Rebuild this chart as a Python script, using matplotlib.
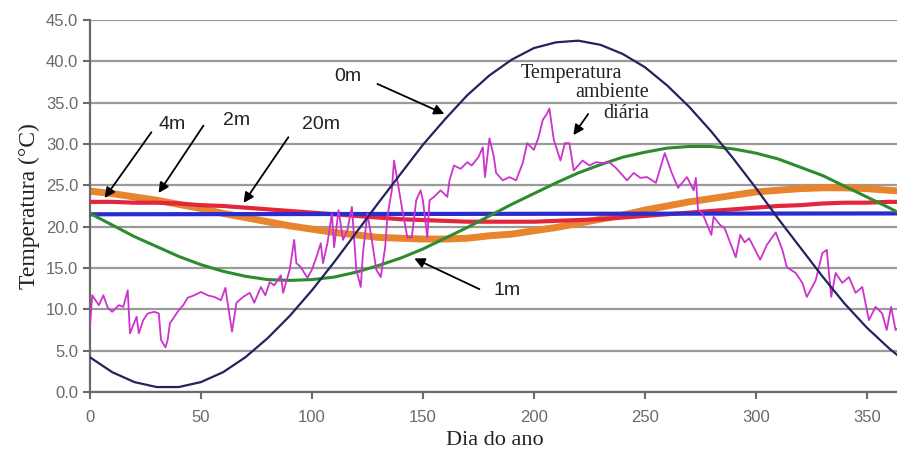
import matplotlib
matplotlib.use('Agg')
import matplotlib.pyplot as plt

# smooth soil temperature curves, read every 10 days
days = [0, 10, 20, 30, 40, 50, 60, 70, 80, 90, 100, 110, 120, 130, 140, 150, 160, 170, 180,
        190, 200, 210, 220, 230, 240, 250, 260, 270, 280, 290, 300, 310, 320, 330, 340, 350, 360, 365]
t_0m = [4.2, 2.4, 1.2, 0.6, 0.6, 1.2, 2.4, 4.2, 6.5, 9.2, 12.3, 15.7, 19.3, 22.9, 26.4, 29.9, 33.0, 35.9, 38.3,
        40.2, 41.6, 42.3, 42.5, 42.0, 40.9, 39.3, 37.1, 34.5, 31.5, 28.2, 24.7, 21.0, 17.5, 14.0, 10.7, 7.8, 5.3, 4.2]
t_1m = [21.6, 20.2, 18.8, 17.6, 16.4, 15.4, 14.6, 14.0, 13.6, 13.5, 13.6, 13.9, 14.5, 15.3, 16.2, 17.3, 18.6, 19.9, 21.3,
        22.7, 24.0, 25.3, 26.5, 27.5, 28.4, 29.0, 29.5, 29.7, 29.7, 29.4, 28.9, 28.2, 27.2, 26.2, 24.9, 23.6, 22.3, 21.6]
t_2m = [24.3, 24.0, 23.6, 23.2, 22.7, 22.2, 21.6, 21.1, 20.6, 20.1, 19.7, 19.3, 19.0, 18.7, 18.6, 18.5, 18.5, 18.6, 18.9,
        19.1, 19.5, 19.9, 20.4, 20.9, 21.4, 22.0, 22.5, 23.0, 23.4, 23.8, 24.2, 24.4, 24.6, 24.7, 24.7, 24.6, 24.4, 24.3]
t_4m = [23.0, 23.0, 22.9, 22.9, 22.8, 22.6, 22.5, 22.3, 22.1, 21.9, 21.7, 21.5, 21.3, 21.1, 20.9, 20.8, 20.7, 20.6, 20.6,
        20.6, 20.6, 20.7, 20.8, 20.9, 21.1, 21.3, 21.5, 21.7, 21.9, 22.1, 22.3, 22.5, 22.6, 22.8, 22.9, 22.9, 23.0, 23.0]
days_20m = [0, 365]
t_20m = [21.5, 21.6]

# daily ambient air temperature
amb_days = [0, 1, 4, 6, 8, 10, 13, 15, 17, 18, 21, 22, 24, 26, 29, 31, 32, 34, 35, 36, 40, 42, 44, 47, 50,
            53, 56, 59, 61, 64, 66, 69, 72, 74, 77, 79, 81, 83, 86, 87, 90, 92, 93, 95, 98, 100, 102, 104,
            105, 107, 109, 110, 112, 114, 116, 118, 120, 122, 123, 125, 127, 129, 131, 133, 134, 136, 137,
            141, 143, 145, 147, 149, 150, 152, 153, 155, 158, 161, 162, 164, 167, 170, 172, 175, 177, 178,
            180, 182, 183, 186, 189, 192, 195, 197, 200, 202, 204, 206, 207, 209, 212, 214, 216, 218, 222,
            225, 228, 231, 234, 237, 242, 245, 248, 251, 255, 259, 262, 265, 269, 272, 273, 274, 276, 280,
            281, 284, 286, 291, 293, 295, 297, 302, 305, 309, 312, 314, 318, 321, 323, 327, 330, 332, 334,
            336, 339, 342, 345, 348, 351, 354, 357, 359, 361, 363, 365]
amb_temp = [7.9, 11.7, 10.5, 11.7, 10.2, 9.7, 10.5, 10.3, 12.3, 7.1, 9.1, 7.1, 8.7, 9.5, 9.7, 9.5, 6.3, 5.4,
            6.3, 8.3, 9.9, 10.5, 11.4, 11.7, 12.1, 11.7, 11.5, 11.1, 12.6, 7.3, 10.8, 11.5, 12.0, 10.8, 12.7,
            11.7, 13.3, 12.9, 14.1, 12.0, 14.8, 18.4, 15.6, 15.1, 13.8, 14.8, 16.3, 18.0, 15.6, 18.0, 21.6,
            17.5, 22.0, 18.4, 19.6, 22.4, 14.8, 12.7, 16.8, 21.6, 18.4, 14.8, 13.9, 17.5, 21.2, 24.4, 28.0,
            21.6, 18.7, 18.7, 23.2, 24.4, 23.2, 18.7, 23.2, 23.6, 24.4, 23.6, 25.6, 27.4, 27.0, 27.8, 27.4,
            28.4, 29.6, 26.0, 30.7, 28.4, 26.5, 25.6, 26.0, 25.6, 27.7, 30.1, 29.3, 30.7, 32.9, 33.7, 34.3,
            30.5, 28.0, 30.1, 30.1, 26.8, 28.0, 27.4, 27.8, 27.7, 27.8, 27.1, 25.6, 26.5, 25.9, 26.0, 25.3,
            28.9, 26.6, 24.7, 26.0, 24.4, 25.9, 22.0, 21.6, 19.0, 21.2, 20.2, 19.8, 16.3, 19.0, 18.1, 18.6,
            16.0, 17.8, 19.3, 17.2, 15.1, 14.4, 13.2, 11.5, 13.5, 16.8, 17.2, 11.5, 14.4, 13.2, 13.9, 12.0,
            12.7, 8.7, 10.3, 9.5, 7.5, 10.3, 7.5, 8.0]

yticks = [0, 5, 10, 15, 20, 25, 30, 35, 40, 45]
xticks = [0, 50, 100, 150, 200, 250, 300, 350]

sans = ['Liberation Sans', 'DejaVu Sans']
serif = ['Liberation Serif', 'DejaVu Serif']

fig = plt.figure(figsize=(8.97, 4.58), dpi=100)
ax = fig.add_axes([90 / 897, 66 / 458, 810 / 897, 372 / 458])

for y in yticks:
    ax.axhline(y, color='#9a9a9a', lw=1.6, zorder=0)

ax.plot(days, t_2m, color='#e8832e', lw=5, zorder=2, solid_capstyle='butt')
ax.plot(days, t_4m, color='#e3263c', lw=3, zorder=3, solid_capstyle='butt')
ax.plot(days_20m, t_20m, color='#2b2bd0', lw=3, zorder=4, solid_capstyle='butt')
ax.plot(days, t_1m, color='#2e8b2e', lw=2.2, zorder=5)
ax.plot(amb_days, amb_temp, color='#cc33cc', lw=1.3, zorder=6)
ax.plot(days, t_0m, color='#23235f', lw=1.6, zorder=7)

ax.set_xlim(0, 365)
ax.set_ylim(0, 45)
ax.set_xticks(xticks)
ax.set_yticks(yticks)
ax.set_yticklabels([f"{v:.1f}" for v in yticks])
for lab in ax.get_xticklabels() + ax.get_yticklabels():
    lab.set_family(sans)
    lab.set_fontsize(12)
    lab.set_color('#3a3a3a')
ax.tick_params(colors='#6a6a6a', length=5, width=1.5)
ax.tick_params(axis='x', pad=8)
for s in ['top', 'right']:
    ax.spines[s].set_visible(False)
for s in ['left', 'bottom']:
    ax.spines[s].set_color('#6a6a6a')
    ax.spines[s].set_linewidth(1.6)

ax.set_xlabel("Dia do ano", family=serif, fontsize=16, color='#222222', labelpad=4)
ax.set_ylabel("Temperatura (°C)", family=serif, fontsize=17, color='#222222', labelpad=4)

arrow = dict(arrowstyle='-|>', color='black', lw=1.3, mutation_scale=15)
# labels and arrows: (text, text pos, arrow tail, arrow tip)
labels = [
    ("0m", (116, 38.2), (128.4, 37.4), (160.8, 33.5)),
    ("4m", (37, 32.3), (28.4, 31.7), (5.9, 23.2)),
    ("2m", (66, 32.9), (51.8, 32.5), (30.2, 23.8)),
    ("20m", (104, 32.3), (90.1, 31.1), (68.5, 22.6)),
    ("1m", (188, 12.3), (176.6, 12.3), (145.0, 16.3)),
]
for txt, pos, tail, tip in labels:
    ax.text(pos[0], pos[1], txt, family=sans, fontsize=14, color='#222222',
            ha='center', va='center', zorder=10)
    ax.annotate("", xy=tip, xytext=tail, arrowprops=arrow, zorder=10)

ax.text(217, 38.5, "Temperatura", family=serif, fontsize=14.5, color='#222222', ha='center', va='center')
ax.text(252, 36.2, "ambiente", family=serif, fontsize=14.5, color='#222222', ha='right', va='center')
ax.text(252, 33.7, "diária", family=serif, fontsize=14.5, color='#222222', ha='right', va='center')
ax.annotate("", xy=(217.1, 30.8), xytext=(225.2, 33.9), arrowprops=arrow, zorder=10)

fig.savefig("out.png", dpi=100)
